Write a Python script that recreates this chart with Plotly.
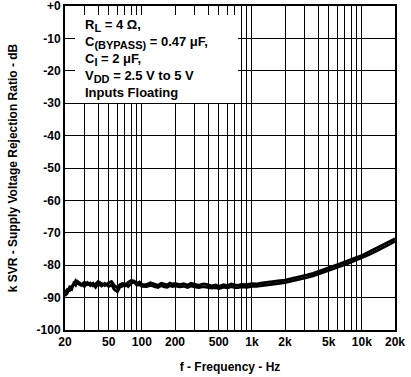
import plotly.graph_objects as go

freq = [20, 21, 22, 23, 24, 25, 26, 28, 30, 32, 34, 36, 38, 40, 43, 46, 50, 53, 56, 60,
        63, 67, 71, 75, 80, 85, 90, 95, 100, 110, 120, 130, 140, 150, 160, 170, 180, 190,
        200, 220, 240, 260, 280, 300, 330, 360, 400, 430, 470, 500, 550, 600, 650, 700,
        750, 800, 900, 1000, 1100, 1200, 1400, 1600, 1800, 2000, 2200, 2500, 2800, 3200,
        3600, 4000, 4500, 5000, 5600, 6300, 7100, 8000, 9000, 10000, 11000, 12500, 14000,
        16000, 18000, 20000]

svr_vdd_25 = [-88.5, -87.5, -87.8, -86.5, -86.0, -84.8, -85.6, -86.2, -85.2, -86.0, -85.5,
              -86.4, -85.8, -85.0, -85.6, -86.3, -85.4, -85.0, -86.2, -87.0, -86.0, -85.6,
              -86.3, -85.3, -84.7, -84.9, -85.6, -85.2, -85.9, -86.0, -85.4, -85.8, -86.2,
              -85.6, -85.9, -86.1, -85.5, -85.8, -85.6, -86.0, -85.7, -86.1, -85.6, -85.9,
              -86.2, -85.8, -86.0, -86.4, -86.1, -86.6, -86.0, -86.3, -85.8, -86.1, -86.2,
              -85.9, -86.0, -85.7, -85.8, -85.5, -85.3, -85.0, -84.8, -84.6, -84.3, -84.0,
              -83.6, -83.0, -82.5, -82.0, -81.4, -80.8, -80.2, -79.6, -79.0, -78.3, -77.6,
              -77.0, -76.3, -75.4, -74.6, -73.6, -72.7, -71.8]

svr_vdd_5 = [-89.5, -88.6, -86.8, -87.4, -85.6, -86.2, -85.0, -85.8, -86.6, -85.4, -86.3,
             -85.6, -86.8, -85.8, -86.4, -85.6, -86.6, -86.0, -87.5, -88.2, -86.8, -86.4,
             -85.8, -86.6, -85.6, -85.2, -86.2, -86.0, -86.5, -86.6, -86.2, -86.6, -86.9,
             -86.3, -86.7, -86.8, -86.3, -86.6, -86.4, -86.7, -86.5, -86.9, -86.4, -86.7,
             -86.9, -86.6, -86.8, -87.1, -86.9, -87.3, -86.8, -87.0, -86.6, -86.9, -86.9,
             -86.7, -86.8, -86.5, -86.5, -86.3, -86.1, -85.8, -85.6, -85.4, -85.1, -84.8,
             -84.4, -83.8, -83.3, -82.8, -82.2, -81.6, -81.0, -80.4, -79.8, -79.1, -78.4,
             -77.8, -77.1, -76.2, -75.4, -74.4, -73.5, -72.6]

x_grid_vals = [20, 30, 40, 50, 60, 70, 80, 90, 100, 200, 300, 400, 500, 600, 700, 800, 900,
               1000, 2000, 3000, 4000, 5000, 6000, 7000, 8000, 9000, 10000, 20000]
x_labeled = {20: "20", 50: "50", 100: "100", 200: "200", 500: "500", 1000: "1k",
             2000: "2k", 5000: "5k", 10000: "10k", 20000: "20k"}
y_tick_vals = [0, -10, -20, -30, -40, -50, -60, -70, -80, -90, -100]
y_tick_labels = ["+0", "-10", "-20", "-30", "-40", "-50", "-60", "-70", "-80", "-90", "-100"]

SUB = '<sub><span style="font-size:11px">%s</span></sub>'
notes = ["R" + SUB % "L" + " = 4 \u03a9,",
         "C" + SUB % "(BYPASS)" + " = 0.47 \u03bcF,",
         "C" + SUB % "I" + " = 2 \u03bcF,",
         "V" + SUB % "DD" + " = 2.5 V to 5 V",
         "Inputs Floating"]

FONT = "Liberation Sans, Arial, sans-serif"
W, H = 411, 377
L, R, T, B = 65, 16, 6, 47
pw, ph = W - L - R, H - T - B


def px_x(px):
    return (px - L) / pw


def px_y(py):
    return (H - B - py) / ph


fig = go.Figure()
for ys in (svr_vdd_25, svr_vdd_5):
    fig.add_trace(go.Scatter(x=freq, y=ys, mode="lines",
                             line=dict(color="black", width=2.8), showlegend=False))

axis_common = dict(showgrid=True, gridcolor="black", gridwidth=1, showline=True,
                   linecolor="black", linewidth=2, mirror=True, ticks="", zeroline=False,
                   automargin=False, ticklabeloverflow="allow",
                   tickfont=dict(family=FONT, size=12, color="black"))

fig.update_xaxes(type="log", range=[1.30103, 4.30103], tickvals=x_grid_vals,
                 ticktext=["<b>%s</b>" % x_labeled[v] if v in x_labeled else "" for v in x_grid_vals],
                 title=dict(text="<b>f - Frequency - Hz</b>", font=dict(family=FONT, size=12, color="black"),
                            standoff=14),
                 **axis_common)
fig.update_yaxes(range=[-100, 0], tickvals=y_tick_vals,
                 ticktext=["<b>%s</b>" % t for t in y_tick_labels],
                 title=dict(text="<b>k SVR - Supply Voltage Rejection Ratio - dB</b>",
                            font=dict(family=FONT, size=12, color="black"), standoff=16),
                 **axis_common)

fig.add_shape(type="rect", xref="paper", yref="paper",
              x0=px_x(75), x1=px_x(238), y0=px_y(103), y1=px_y(15),
              fillcolor="white", line=dict(width=0), layer="above")

note_y = [25, 43, 60, 77, 93]
for txt, yy in zip(notes, note_y):
    fig.add_annotation(text="<b>%s</b>" % txt, xref="paper", yref="paper",
                       x=px_x(83), y=px_y(yy), xanchor="left", yanchor="middle",
                       showarrow=False, font=dict(family=FONT, size=13, color="black"))

fig.update_layout(width=W, height=H, margin=dict(l=L, r=R, t=T, b=B),
                  plot_bgcolor="white", paper_bgcolor="white")

fig.write_html("out.html", config={"displayModeBar": False},
               post_script="document.body.style.margin='0px';")
